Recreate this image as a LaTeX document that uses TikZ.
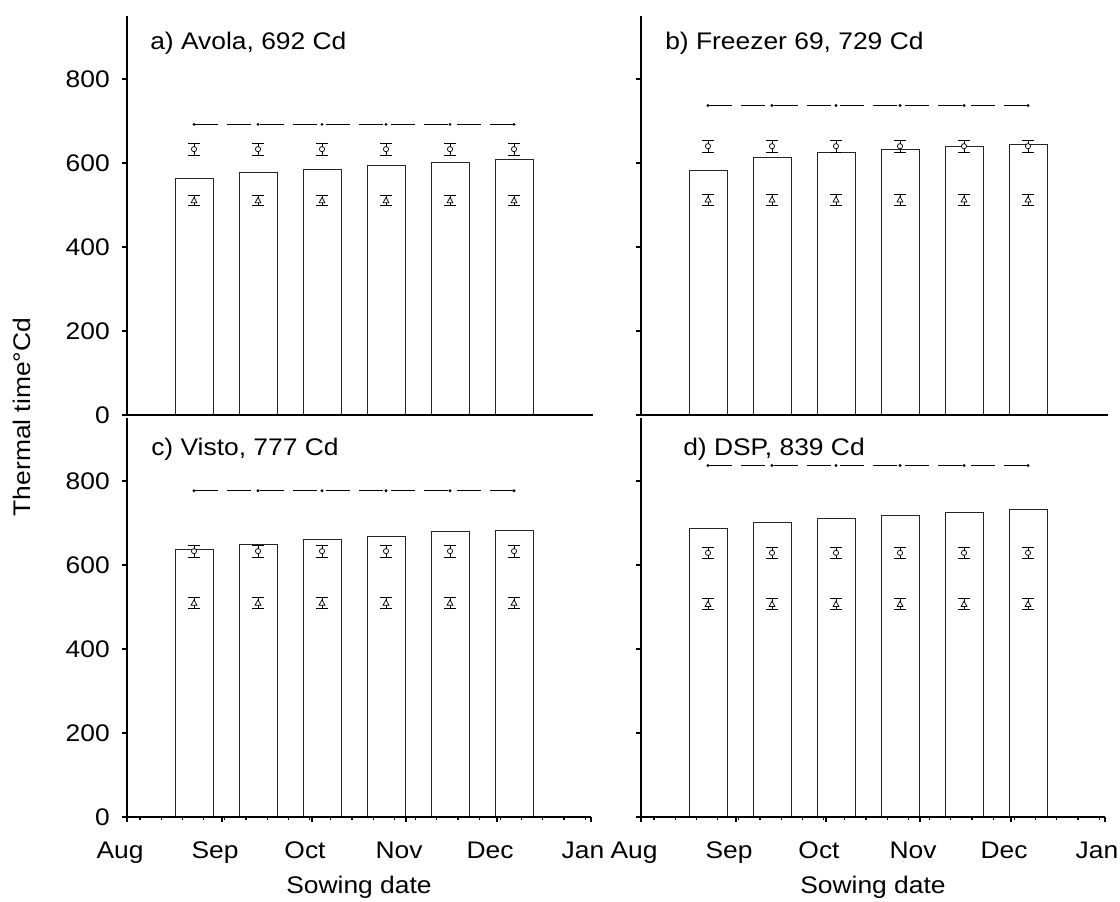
\documentclass[tikz,border=0pt]{standalone}
\usepackage{fontspec}
\setmainfont{Liberation Sans}[FakeStretch=1.1]
\begin{document}
\begin{tikzpicture}[x=0.75pt,y=-0.75pt,
  barbox/.style={draw=black!85,line width=0.7pt,fill=white},
  axisline/.style={draw=black,line width=0.8pt},
  ebar/.style={draw=black,line width=0.6pt},
  mk/.style={draw=black,line width=0.55pt,fill=white},
  dashline/.style={draw=black,line width=0.8pt,dash pattern=on 18pt off 6.675pt},
  lab/.style={font=\fontsize{18}{21}\selectfont,inner sep=0pt}]
\useasboundingbox (0,0) rectangle (1120,901);
\fill[white] (0,0) rectangle (1120,901);
% panels
\foreach \X/\Z/\bars/\cv/\tv/\dl in {
  127/415/{564,577,585,594,602,608}/633/511/692,
  641/415/{583,614,625,633,640,645}/640/513/737,
  127/817/{638,650,660,669,679,683}/633/510/777,
  641/817/{687,701,710,717,725,733}/629/507/837}{
  \foreach \b [count=\k from 0] in \bars {
    \pgfmathsetmacro\cx{\X+67+64*\k}
    \draw[barbox] (\cx-19,\Z) rectangle (\cx+19,{\Z-0.42*\b});
  }
  \draw[dashline] ({\X+67},{\Z-0.42*\dl}) -- ({\X+67+320},{\Z-0.42*\dl});
  \foreach \k in {0,...,5} {
    \pgfmathsetmacro\cx{\X+67+64*\k}
    \fill (\cx,{\Z-0.42*\dl}) circle (1.6);
    % circle marker with error bar
    \draw[ebar] (\cx,{\Z-0.42*(\cv+14)}) -- (\cx,{\Z-0.42*(\cv-14)});
    \draw[ebar] (\cx-6,{\Z-0.42*(\cv+14)}) -- (\cx+6,{\Z-0.42*(\cv+14)});
    \draw[ebar] (\cx-6,{\Z-0.42*(\cv-14)}) -- (\cx+6,{\Z-0.42*(\cv-14)});
    \draw[mk] (\cx,{\Z-0.42*\cv}) circle (2.6);
    % triangle marker with error bar
    \draw[ebar] (\cx,{\Z-0.42*(\tv+13)}) -- (\cx,{\Z-0.42*(\tv-13)});
    \draw[ebar] (\cx-6,{\Z-0.42*(\tv+13)}) -- (\cx+6,{\Z-0.42*(\tv+13)});
    \draw[ebar] (\cx-6,{\Z-0.42*(\tv-13)}) -- (\cx+6,{\Z-0.42*(\tv-13)});
    \draw[mk] (\cx-2.9,{\Z-0.42*\tv+2.4}) -- (\cx+2.9,{\Z-0.42*\tv+2.4}) -- (\cx,{\Z-0.42*\tv-3}) -- cycle;
  }
  % y axis
  \draw[axisline] (\X,{\Z-399}) -- (\X,\Z);
  \foreach \v in {0,200,...,800}
    \draw[axisline] (\X-5,{\Z-0.42*\v}) -- (\X,{\Z-0.42*\v});
}
% top panel x axes
\draw[draw=black,line width=1.3pt] (127,415) -- (593,415);
\draw[draw=black,line width=1.3pt] (641,415) -- (1108,415);
% bottom panel x axes with ticks
\foreach \X in {127,641} {
  \draw[axisline] (\X,817) -- (\X+464,817);
  \foreach \m in {0,95,185,279,370,464}
    \draw[axisline] (\X+\m,817) -- (\X+\m,821.5);
  \foreach \k in {0,...,21}
    \draw[axisline] ({\X+13+21.2*\k},817) -- ({\X+13+21.2*\k},820);
}
% y tick labels (left panels)
\foreach \v in {0,200,...,800} {
  \node[lab,anchor=east] (ya\v) at (110,{415-0.42*\v}) {\v};
  \node[lab,anchor=east] (yc\v) at (110,{817-0.42*\v}) {\v};
}
% month labels
\foreach \X/\p in {127/l,641/r} {
  \node[lab,anchor=base] (aug\p) at (\X-7,858) {Aug};
  \node[lab,anchor=base] (sep\p) at (\X+95-7,858) {Sep};
  \node[lab,anchor=base] (oct\p) at (\X+185-7,858) {Oct};
  \node[lab,anchor=base] (nov\p) at (\X+279-7,858) {Nov};
  \node[lab,anchor=base] (dec\p) at (\X+370-7,858) {Dec};
  \node[lab,anchor=base] (jan\p) at (\X+464-8,858) {Jan};
}
\node[lab,anchor=base] (sowl) at (359,893) {Sowing date};
\node[lab,anchor=base] (sowr) at (873,893) {Sowing date};
\node[lab,rotate=90] (ylab) at (22,417) {Thermal time°Cd};
% titles
\node[lab,anchor=base west] (ta) at (150,49) {a) Avola, 692 Cd};
\node[lab,anchor=base west] (tb) at (665,49) {b) Freezer 69, 729 Cd};
\node[lab,anchor=base west] (tc) at (151,455) {c) Visto, 777 Cd};
\node[lab,anchor=base west] (td) at (683,455) {d) DSP, 839 Cd};
\end{tikzpicture}
\end{document}
